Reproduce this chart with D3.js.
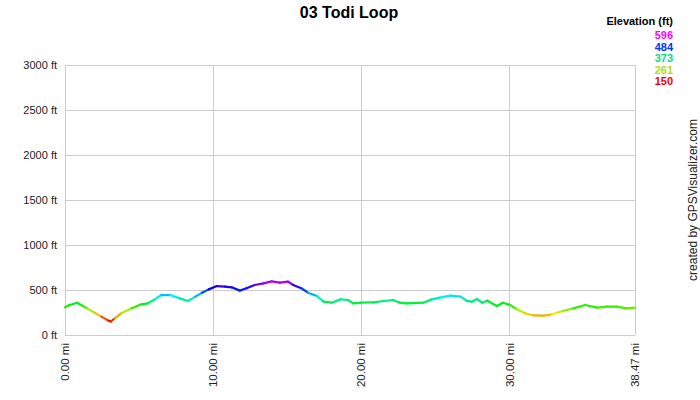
<!DOCTYPE html>
<html><head><meta charset="utf-8">
<script src="https://cdn.jsdelivr.net/npm/d3@7"></script>
<style>body{margin:0;background:#fff}svg{display:block;font-family:"Liberation Sans",Arial,sans-serif}</style>
</head><body><svg id="c" width="700" height="400"></svg>
<script>
const title = "03 Todi Loop";
const distances = [0.00,0.3,0.55,0.8,1.1,1.5,2.0,2.45,2.95,3.1,3.35,3.8,4.5,5.15,5.6,6.05,6.5,7.1,7.75,8.3,8.8,9.25,9.7,10.25,10.8,11.25,11.8,12.25,12.8,13.4,13.95,14.5,15.05,15.4,15.95,16.4,17.0,17.45,18.0,18.6,19.1,19.45,20.0,20.8,21.5,22.15,22.6,23.05,24.2,24.75,25.3,26.0,26.7,27.1,27.45,27.8,28.15,28.5,29.15,29.55,30.05,30.5,31.05,31.6,32.3,32.85,33.3,33.65,34.3,35.1,35.9,36.55,37.25,37.9,38.47];
const elevations = [308,333,345,359,333,296,248,204,159,150,185,241,296,341,352,396,444,444,407,378,426,470,507,544,537,530,493,519,556,574,596,581,593,556,519,470,433,370,359,396,389,352,359,363,378,389,359,352,359,396,415,437,426,381,370,400,359,381,322,359,333,285,241,219,215,230,252,270,296,333,304,315,315,296,304];
const yTicks = [0,500,1000,1500,2000,2500,3000];
const xTicks = [0,10,20,30,38.47];
const legendValues = [596,484,373,261,150];
const legendTitle = "Elevation (ft)";
const credit = "created by GPSVisualizer.com";

const svg = d3.select("#c");
const L=65,R=635,T=65,B=335;
const x = d3.scaleLinear().domain([0,38.47]).range([L,R]);
const y = d3.scaleLinear().domain([0,3000]).range([B,T]);
const hue = d3.scaleLinear().domain([150,596]).range([0,290]);
const col = e => d3.hsl(hue(e),1,0.47).formatHex();

// grid
svg.append("g").selectAll("line").data(yTicks).join("line")
  .attr("x1",L).attr("x2",R).attr("y1",d=>y(d)).attr("y2",d=>y(d))
  .attr("stroke","#cccccc").attr("stroke-width",1).attr("shape-rendering","crispEdges");
svg.append("g").selectAll("line").data(xTicks).join("line")
  .attr("x1",d=>x(d)).attr("x2",d=>x(d)).attr("y1",T).attr("y2",B)
  .attr("stroke","#cccccc").attr("stroke-width",1).attr("shape-rendering","crispEdges");

// y labels
svg.append("g").selectAll("text").data(yTicks).join("text")
  .attr("x",L-8).attr("y",d=>y(d)).attr("dy","0.35em").attr("text-anchor","end")
  .attr("font-size",11).attr("fill","#222").text(d=>d+" ft");
// x labels
svg.append("g").selectAll("text").data(xTicks).join("text")
  .attr("transform",d=>`translate(${x(d)+4},${B+8}) rotate(-90)`)
  .attr("text-anchor","end").attr("font-size",11.5).attr("fill","#222")
  .text(d=>d.toFixed(2)+" mi");

// profile segments
const pts = distances.map((d,i)=>[d,elevations[i]]);
svg.append("g").selectAll("line").data(d3.pairs(pts)).join("line")
  .attr("x1",d=>x(d[0][0])).attr("y1",d=>y(d[0][1]))
  .attr("x2",d=>x(d[1][0])).attr("y2",d=>y(d[1][1]))
  .attr("stroke",d=>col((d[0][1]+d[1][1])/2)).attr("stroke-width",2.2).attr("stroke-linecap","round");

// title
svg.append("text").attr("x",349).attr("y",18).attr("text-anchor","middle")
  .attr("font-size",16).attr("font-weight","bold").text(title);
// legend
svg.append("text").attr("x",673).attr("y",25).attr("text-anchor","end")
  .attr("font-size",11).attr("font-weight","bold").text(legendTitle);
svg.append("g").selectAll("text").data(legendValues).join("text")
  .attr("x",673).attr("y",(d,i)=>39+i*11.5).attr("text-anchor","end")
  .attr("font-size",11).attr("font-weight","bold")
  .attr("fill",(d,i)=>["#ff00ff","#0033ff","#00e080","#b0e000","#ee0000"][i]).text(d=>d);
// credit
svg.append("text").attr("transform","translate(697,200) rotate(-90)").attr("text-anchor","middle")
  .attr("font-size",12).attr("fill","#222").text(credit);
</script></body></html>
